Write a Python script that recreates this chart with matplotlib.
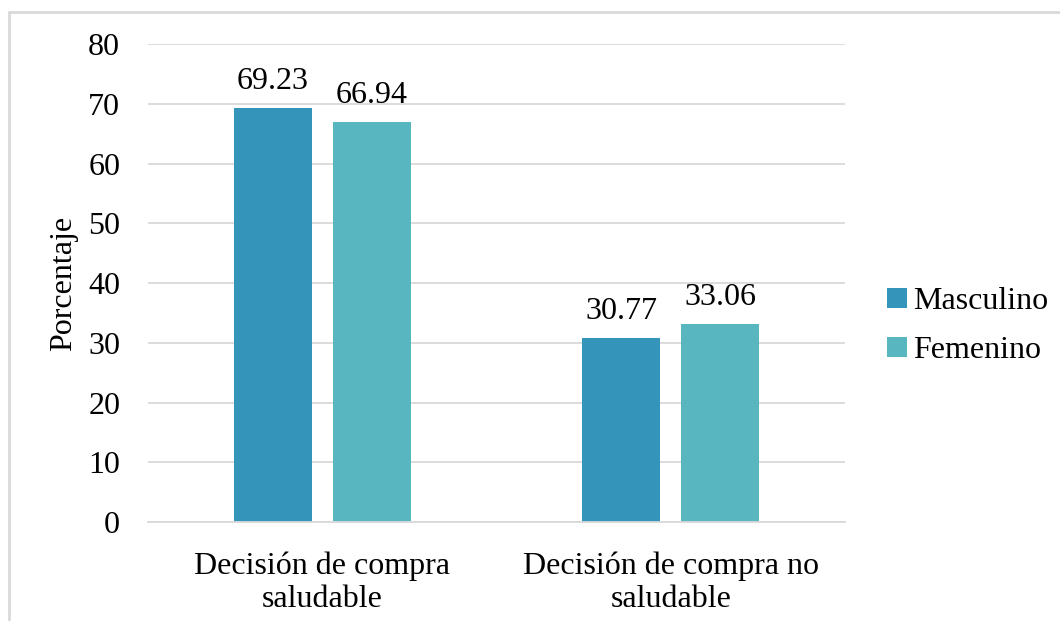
import matplotlib.pyplot as plt
import numpy as np
from matplotlib.patches import Rectangle

categories = ["Decisión de compra\nsaludable", "Decisión de compra no\nsaludable"]
series_names = ["Masculino", "Femenino"]
masculino = [69.23, 30.77]
femenino = [66.94, 33.06]
colors = ["#3494ba", "#58b6c0"]

plt.rcParams["font.family"] = ["Liberation Serif", "DejaVu Serif"]
fs = 23

fig = plt.figure(figsize=(10.6, 6.21), dpi=100)
ax = fig.add_axes([0.1396, 0.1594, 0.7972 - 0.1396, 0.9291 - 0.1594])

# outer light-gray frame (right/bottom edges fall outside the image)
fig.patches.append(Rectangle((9 / 1060, -0.1), 1.2, 1 - 12 / 621 + 0.1,
                             transform=fig.transFigure, fill=False,
                             edgecolor="#d9d9d9", linewidth=2))

x = np.arange(len(categories))
w = 0.224
gap = 0.06
b1 = ax.bar(x - (w + gap) / 2, masculino, w, color=colors[0], label=series_names[0])
b2 = ax.bar(x + (w + gap) / 2, femenino, w, color=colors[1], label=series_names[1])
for bars in (b1, b2):
    ax.bar_label(bars, labels=[f"{v:.2f}" for v in bars.datavalues],
                 padding=9, fontsize=fs)

ax.set_xlim(-0.5, 1.5)
ax.set_ylim(0, 80)
ax.set_yticks(range(0, 81, 10))
ax.set_xticks(x)
ax.set_xticklabels(categories, fontsize=fs, linespacing=1.2)
ax.tick_params(axis="y", labelsize=fs, length=0, pad=20)
ax.tick_params(axis="x", length=0, pad=21)
ax.grid(axis="y", color="#d9d9d9", linewidth=1.3)
ax.set_axisbelow(True)
for s in ["top", "right", "left"]:
    ax.spines[s].set_visible(False)
ax.spines["bottom"].set_color("#d9d9d9")
ax.spines["bottom"].set_linewidth(1.3)
ax.set_ylabel("Porcentaje", fontsize=fs, labelpad=7)

fig.legend(loc="center left", bbox_to_anchor=(0.81, 0.475), frameon=False,
           fontsize=fs, handlelength=0.6, handleheight=0.6, handletextpad=0.2,
           labelspacing=0.62)

fig.savefig("out.png", dpi=100)
